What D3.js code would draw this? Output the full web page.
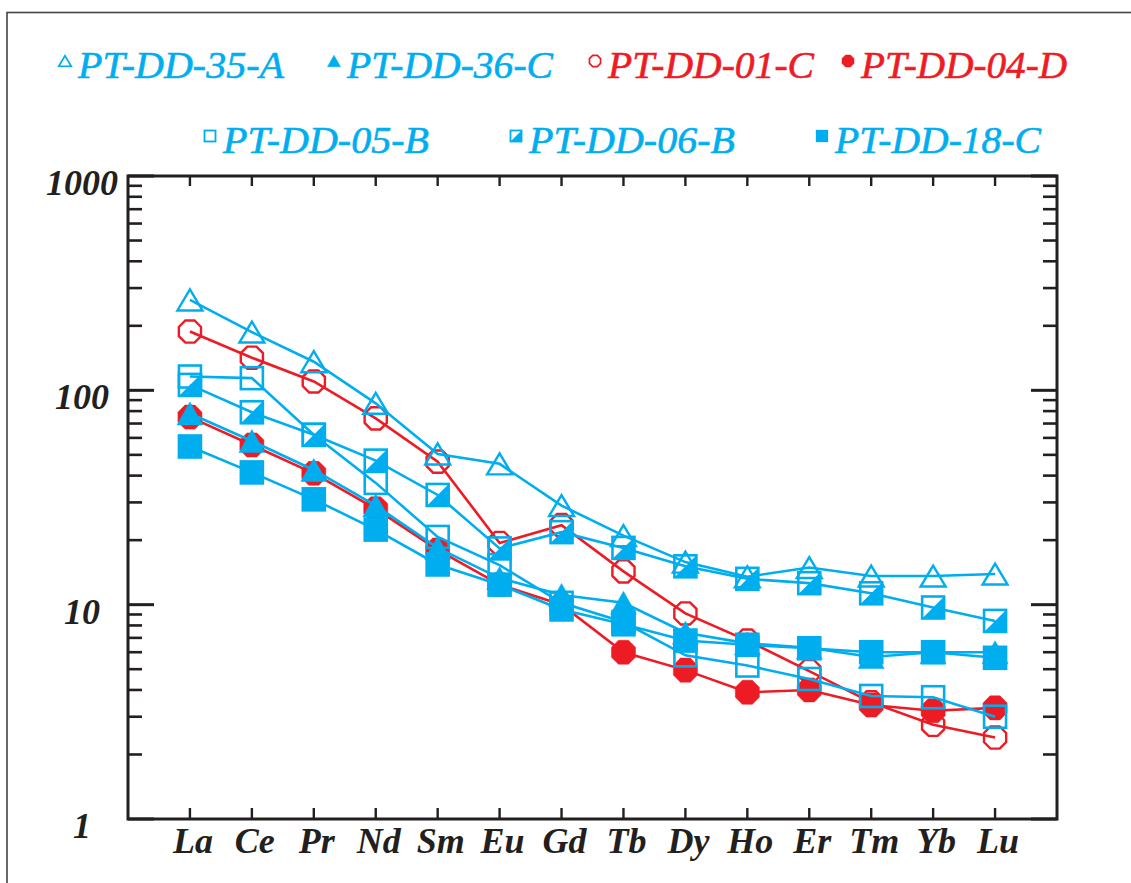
<!DOCTYPE html>
<html>
<head>
    <meta charset="utf-8">
    <title>REE pattern</title>
    <script src="https://d3js.org/d3.v7.min.js"></script>
    <style>
        body { margin: 0; background: #fff; }
        .tick-label { font-family: "Liberation Serif", serif; font-weight: bold; font-style: italic; font-size: 36px; fill: #231f20; }
        .legend-text { font-family: "Liberation Serif", serif; font-style: italic; font-size: 38px; }
    </style>
</head>
<body>
<div id="chart"></div>
<script>
    // elements on the x axis
    const elements = ["La", "Ce", "Pr", "Nd", "Sm", "Eu", "Gd", "Tb", "Dy", "Ho", "Er", "Tm", "Yb", "Lu"];
    const yTicks = [1, 10, 100, 1000];

    // sample values (chondrite normalised)
    const dd35A = [264, 187, 136, 87, 50.5, 45.4, 29, 21, 15.8, 13.5, 14.9, 13.6, 13.6, 13.9];
    const dd36C = [78, 58, 42.5, 29, 18.4, 13.3, 11.1, 10.2, 7.4, 6.6, 6.3, 5.7, 6.0, 6.0];
    const dd01C = [188, 142, 110, 74, 46.5, 19.4, 23.5, 14.3, 9.1, 6.8, 4.9, 3.5, 2.75, 2.4];
    const dd04D = [75, 55.6, 41, 28, 18, 12.4, 10, 6.0, 4.95, 3.9, 4.0, 3.4, 3.2, 3.3];
    const dd05B = [116, 114, 62, 37, 20.7, 15.3, 10.2, 8.3, 5.8, 5.2, 4.5, 3.75, 3.7, 3.0];
    const dd06B = [106, 79, 62, 47, 32.5, 18.3, 21.8, 18.4, 15.1, 13.2, 12.6, 11.3, 9.7, 8.4];
    const dd18C = [54.7, 41.4, 31, 22.4, 15.4, 12.4, 9.5, 8.1, 6.8, 6.5, 6.26, 6.0, 6.0, 5.65];

    const blue = "#00aeef";
    const red = "#ed1c24";
    const ink = "#231f20";

    const series = [
        { name: "PT-DD-01-C", values: dd01C, color: red, shape: "octOpen" },
        { name: "PT-DD-04-D", values: dd04D, color: red, shape: "octFill" },
        { name: "PT-DD-35-A", values: dd35A, color: blue, shape: "triOpen" },
        { name: "PT-DD-36-C", values: dd36C, color: blue, shape: "triFill" },
        { name: "PT-DD-05-B", values: dd05B, color: blue, shape: "sqOpen" },
        { name: "PT-DD-06-B", values: dd06B, color: blue, shape: "sqHalf" },
        { name: "PT-DD-18-C", values: dd18C, color: blue, shape: "sqFill" }
    ];

    // legend layout: [name, x of marker, baseline]
    const legendItems = [
        ["PT-DD-35-A", 65, 78], ["PT-DD-36-C", 334, 78], ["PT-DD-01-C", 595, 78], ["PT-DD-04-D", 848, 78],
        ["PT-DD-05-B", 210, 153], ["PT-DD-06-B", 516, 153], ["PT-DD-18-C", 822, 153]
    ];

    const width = 1131, height = 883;
    const plot = { left: 128, right: 1057, top: 176, bottom: 819 };

    const svg = d3.select("#chart").append("svg")
        .attr("width", width)
        .attr("height", height);

    svg.append("rect").attr("width", width).attr("height", height).attr("fill", "#fff");

    // outer frame (runs off the right and bottom edge)
    svg.append("rect")
        .attr("x", 7).attr("y", 12.5)
        .attr("width", 1140).attr("height", 900)
        .attr("fill", "none").attr("stroke", "#444").attr("stroke-width", 1.6);

    const x = d3.scalePoint().domain(elements).range([plot.left, plot.right]).padding(1);
    const y = d3.scaleLog().domain([1, 1000]).range([plot.bottom, plot.top]);

    // marker drawing
    function octagon(r) {
        const pts = d3.range(8).map(k => {
            const a = Math.PI / 8 + k * Math.PI / 4;
            return [r * Math.cos(a), r * Math.sin(a)];
        });
        return "M" + pts.map(p => p.join(",")).join("L") + "Z";
    }

    function drawMarker(g, shape, color, s) {
        // s = scale, 1 for plot markers
        if (shape === "octOpen" || shape === "octFill") {
            const open = shape === "octOpen";
            g.append("path")
                .attr("d", octagon(open ? 12 * s : 13 * s))
                .attr("fill", open ? "none" : color)
                .attr("stroke", color)
                .attr("stroke-width", open ? 2.4 * Math.max(s, 0.7) : 0.5);
        } else if (shape === "triOpen" || shape === "triFill") {
            const open = shape === "triOpen";
            const w = (open ? 12.5 : 13) * s, h = (open ? 10.5 : 11.5) * s;
            g.append("path")
                .attr("d", `M0,${-h}L${w},${h}L${-w},${h}Z`)
                .attr("fill", open ? "none" : color)
                .attr("stroke", color)
                .attr("stroke-width", open ? 2.4 * Math.max(s, 0.7) : 0.5)
                .attr("stroke-linejoin", "miter");
        } else if (shape === "sqOpen") {
            const a = 11 * s;
            g.append("rect").attr("x", -a).attr("y", -a).attr("width", 2 * a).attr("height", 2 * a)
                .attr("fill", "none").attr("stroke", color).attr("stroke-width", 2.6 * Math.max(s, 0.7));
        } else if (shape === "sqHalf") {
            const a = 11 * s;
            g.append("path").attr("d", `M${-a},${a}L${a},${a}L${a},${-a}Z`).attr("fill", color);
            g.append("rect").attr("x", -a).attr("y", -a).attr("width", 2 * a).attr("height", 2 * a)
                .attr("fill", "none").attr("stroke", color).attr("stroke-width", 2.6 * Math.max(s, 0.7));
        } else {
            const a = 12.3 * s;
            g.append("rect").attr("x", -a).attr("y", -a).attr("width", 2 * a).attr("height", 2 * a)
                .attr("fill", color);
        }
    }

    // series: line then markers
    const line = d3.line()
        .x((d, i) => x(elements[i]))
        .y(d => y(d));

    series.forEach(s => {
        const g = svg.append("g");
        g.append("path")
            .datum(s.values)
            .attr("d", line)
            .attr("fill", "none")
            .attr("stroke", s.color)
            .attr("stroke-width", 2.6);
        s.values.forEach((v, i) => {
            const m = g.append("g").attr("transform", `translate(${x(elements[i])},${y(v)})`);
            drawMarker(m, s.shape, s.color, 1);
        });
    });

    // axes box
    const axes = svg.append("g");
    axes.append("rect")
        .attr("x", plot.left).attr("y", plot.top)
        .attr("width", plot.right - plot.left).attr("height", plot.bottom - plot.top)
        .attr("fill", "none").attr("stroke", ink).attr("stroke-width", 3);

    // x ticks, pointing inward on top and bottom
    elements.forEach(e => {
        axes.append("line").attr("x1", x(e)).attr("x2", x(e))
            .attr("y1", plot.bottom).attr("y2", plot.bottom - 11)
            .attr("stroke", ink).attr("stroke-width", 2.4);
        axes.append("line").attr("x1", x(e)).attr("x2", x(e))
            .attr("y1", plot.top).attr("y2", plot.top + 10)
            .attr("stroke", ink).attr("stroke-width", 2.4);
    });

    // y ticks: majors and minors, both sides inward
    const minors = [];
    [1, 10, 100].forEach(dec => d3.range(2, 10).forEach(k => minors.push(dec * k)));
    yTicks.forEach(t => {
        [[plot.left, 26], [plot.right, -26]].forEach(([x0, len]) => {
            axes.append("line").attr("x1", x0).attr("x2", x0 + len)
                .attr("y1", y(t)).attr("y2", y(t))
                .attr("stroke", ink).attr("stroke-width", 3);
        });
    });
    minors.forEach(t => {
        [[plot.left, 14], [plot.right, -14]].forEach(([x0, len]) => {
            axes.append("line").attr("x1", x0).attr("x2", x0 + len)
                .attr("y1", y(t)).attr("y2", y(t))
                .attr("stroke", ink).attr("stroke-width", 2.6);
        });
    });

    // tick labels
    svg.selectAll(".ylab")
        .data(yTicks)
        .enter()
        .append("text")
        .attr("class", "tick-label")
        .attr("x", 82)
        .attr("y", d => y(d) + 19)
        .attr("text-anchor", "middle")
        .text(d => d);

    svg.selectAll(".xlab")
        .data(elements)
        .enter()
        .append("text")
        .attr("class", "tick-label")
        .attr("x", d => x(d) + 3)
        .attr("y", 853)
        .attr("text-anchor", "middle")
        .text(d => d);

    // legend
    legendItems.forEach(([name, mx, base]) => {
        const s = series.find(d => d.name === name);
        const m = svg.append("g").attr("transform", `translate(${mx},${base - 17})`);
        drawMarker(m, s.shape, s.color, 0.5);
        svg.append("text")
            .attr("class", "legend-text")
            .attr("x", mx + 13)
            .attr("y", base)
            .attr("fill", s.color)
            .attr("stroke", s.color)
            .attr("stroke-width", 0.6)
            .attr("textLength", 206)
            .attr("lengthAdjust", "spacingAndGlyphs")
            .text(name);
    });
</script>
</body>
</html>
